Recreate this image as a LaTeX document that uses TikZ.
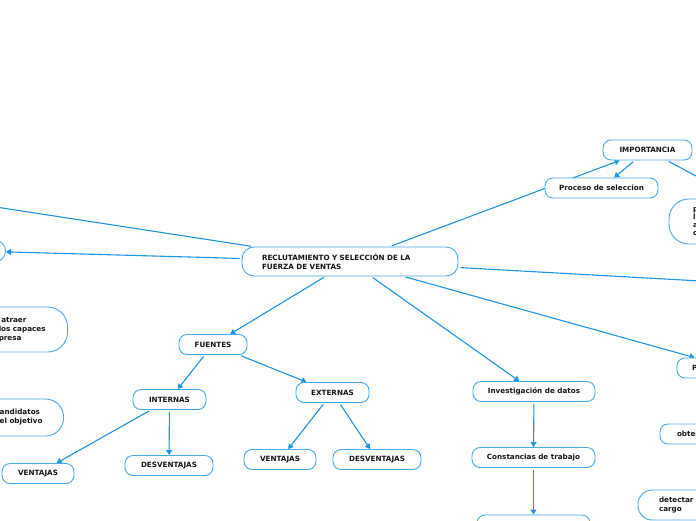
\documentclass[tikz,border=0pt]{standalone}
\usepackage{fontspec}
\setmainfont{DejaVu Sans}
\usetikzlibrary{arrows.meta,backgrounds}
\definecolor{mapblue}{RGB}{30,148,228}
\definecolor{boxblue}{RGB}{72,170,236}
\definecolor{inkgray}{RGB}{22,22,22}

\begin{document}
\begin{tikzpicture}[x=1pt, y=-1pt, >={Triangle[length=5pt,width=6pt]},
  font=\fontsize{7.2}{9}\selectfont\bfseries, text=inkgray,
  topic/.style={draw=boxblue, line width=0.9pt, fill=white, rounded corners=8pt, minimum height=20pt, inner xsep=0pt},
  link/.style={draw=mapblue, line width=1.1pt, shorten <=2pt}]
  \useasboundingbox (0,0) rectangle (696,520);
  \clip (0,0) rectangle (696,520);

  % central topic
  \node[topic, minimum height=29pt, rounded corners=12pt, text width=176pt, align=left, inner xsep=20pt] (main) at (350,261.5) {RECLUTAMIENTO Y SELECCIÓN DE LA\\FUERZA DE VENTAS};

  \node[topic, minimum width=89pt] (imp) at (647.5,150) {IMPORTANCIA};
  \node[topic, minimum width=113pt] (proc) at (601.5,188) {Proceso de seleccion};
  \node[topic, minimum width=68pt] (fuentes) at (213,344.5) {FUENTES};
  \node[topic, minimum width=73pt] (internas) at (169.5,399.5) {INTERNAS};
  \node[topic, minimum width=73pt] (externas) at (332.5,392.5) {EXTERNAS};
  \node[topic, minimum width=72pt] (intvent) at (38,473.5) {VENTAJAS};
  \node[topic, minimum width=88pt] (intdesv) at (169,465.5) {DESVENTAJAS};
  \node[topic, minimum width=72pt] (extvent) at (280,459.5) {VENTAJAS};
  \node[topic, minimum width=88pt] (extdesv) at (377,459.5) {DESVENTAJAS};
  \node[topic, minimum width=122pt] (invest) at (534,391.5) {Investigación de datos};
  \node[topic, minimum width=123pt] (const) at (533.5,457.5) {Constancias de trabajo};
  \node[topic, minimum width=113pt] (nextstep) at (533.5,525) {};

  % topics cut by the page edge
  \node[topic, minimum width=60pt, minimum height=22pt, rounded corners=11pt, anchor=east] (leftc) at (6,251) {};
  \node[topic, minimum height=45pt, rounded corners=20pt, align=left, inner xsep=22pt, anchor=east] (atraer) at (68,329.5) {\ atraer\\los capaces\\presa};
  \node[topic, minimum height=37pt, rounded corners=18pt, align=left, inner xsep=21pt, anchor=east] (cand) at (64,417.5) {andidatos\\el objetivo};
  \node[topic, minimum height=45pt, rounded corners=20pt, text width=100pt, align=left, inner xsep=24pt, font=\fontsize{7.2}{8.2}\selectfont\bfseries] (circ) at (743,221.5) {p\\l\\a\\c};
  \node[topic, text width=80pt, align=left, inner xsep=15pt] (pnode) at (732,368) {P};
  \node[topic, text width=80pt, align=left, inner xsep=17pt] (obten) at (717,434) {obten};
  \node[topic, minimum height=30pt, rounded corners=14pt, text width=80pt, align=left, inner xsep=21pt] (detect) at (699,505) {detectar l\\cargo};

  \coordinate (offleft) at (-60,198.4);
  \coordinate (offright) at (760,284.3);
  \coordinate (offimp) at (760,210.3);

  \begin{scope}[on background layer]
    \draw[link] (main) -- (offleft);
    \draw[link,->] (main) -- (leftc);
    \draw[link,->] (main) -- (imp);
    \draw[link,->] (imp) -- (proc);
    \draw[link] (imp) -- (offimp);
    \draw[link] (main) -- (offright);
    \draw[link,->] (main) -- (pnode);
    \draw[link,->] (main) -- (fuentes);
    \draw[link,->] (main) -- (invest);
    \draw[link,->] (fuentes) -- (internas);
    \draw[link,->] (fuentes) -- (externas);
    \draw[link,->] (internas) -- (intvent);
    \draw[link,->] (internas) -- (intdesv);
    \draw[link,->] (externas) -- (extvent);
    \draw[link,->] (externas) -- (extdesv);
    \draw[link,->] (invest) -- (const);
    \draw[link,->] (const) -- (nextstep);
  \end{scope}
\end{tikzpicture}
\end{document}
